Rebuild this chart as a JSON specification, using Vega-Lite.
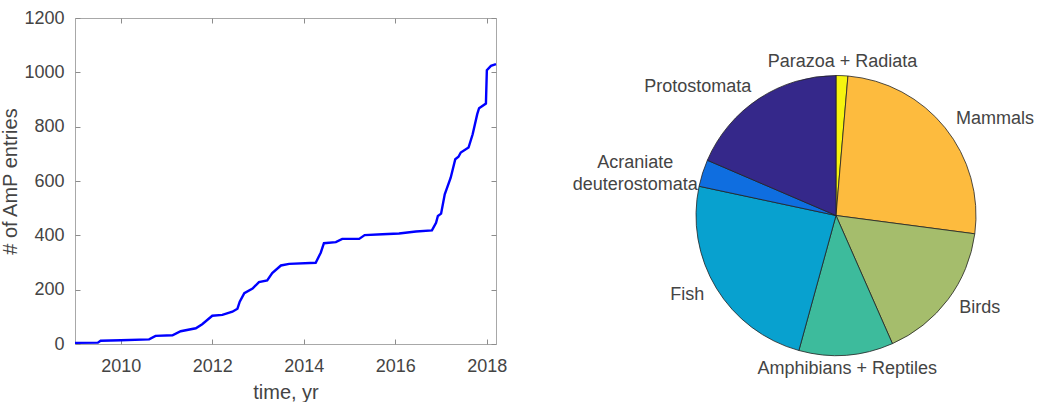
{
  "$schema": "https://vega.github.io/schema/vega-lite/v6.json",
  "padding": {"left": 0, "top": 8, "right": 0, "bottom": 0},
  "bounds": "flush",
  "spacing": 140,
  "config": {
    "font": "Liberation Sans",
    "axis": {
      "grid": false,
      "domain": false,
      "tickColor": "#8c8c8c",
      "tickWidth": 1,
      "tickSize": -5,
      "labelFont": "Liberation Sans",
      "labelFontSize": 18,
      "labelColor": "#444444",
      "titleFont": "Liberation Sans",
      "titleFontSize": 20,
      "titleFontWeight": "normal",
      "titleColor": "#444444"
    }
  },
  "datasets": {
    "entries": [
      {"year": 2009.0, "entries": 4},
      {"year": 2009.5, "entries": 5},
      {"year": 2009.56, "entries": 12},
      {"year": 2010.0, "entries": 14},
      {"year": 2010.62, "entries": 17},
      {"year": 2010.76, "entries": 30},
      {"year": 2011.13, "entries": 32},
      {"year": 2011.31, "entries": 47},
      {"year": 2011.64, "entries": 58},
      {"year": 2011.78, "entries": 73},
      {"year": 2012.0, "entries": 104},
      {"year": 2012.22, "entries": 107},
      {"year": 2012.44, "entries": 119},
      {"year": 2012.55, "entries": 130},
      {"year": 2012.6, "entries": 156},
      {"year": 2012.7, "entries": 187},
      {"year": 2012.88, "entries": 204},
      {"year": 2013.02, "entries": 228},
      {"year": 2013.2, "entries": 234},
      {"year": 2013.31, "entries": 261},
      {"year": 2013.5, "entries": 289},
      {"year": 2013.68, "entries": 295},
      {"year": 2014.26, "entries": 299},
      {"year": 2014.37, "entries": 336},
      {"year": 2014.44, "entries": 371},
      {"year": 2014.7, "entries": 375},
      {"year": 2014.84, "entries": 387},
      {"year": 2015.21, "entries": 387},
      {"year": 2015.33, "entries": 401},
      {"year": 2015.72, "entries": 404},
      {"year": 2016.08, "entries": 407},
      {"year": 2016.45, "entries": 414},
      {"year": 2016.8, "entries": 418},
      {"year": 2016.89, "entries": 446},
      {"year": 2016.93, "entries": 471},
      {"year": 2017.0, "entries": 480},
      {"year": 2017.08, "entries": 551},
      {"year": 2017.21, "entries": 612},
      {"year": 2017.31, "entries": 680},
      {"year": 2017.38, "entries": 689},
      {"year": 2017.43, "entries": 705},
      {"year": 2017.6, "entries": 723},
      {"year": 2017.69, "entries": 772},
      {"year": 2017.79, "entries": 846},
      {"year": 2017.83, "entries": 868},
      {"year": 2017.98, "entries": 885},
      {"year": 2018.0, "entries": 1008},
      {"year": 2018.09, "entries": 1024},
      {"year": 2018.2, "entries": 1030}
    ],
    "taxa": [
      {"group": "Parazoa + Radiata", "count": 14, "rank": 1},
      {"group": "Mammals", "count": 265, "rank": 2},
      {"group": "Birds", "count": 168, "rank": 3},
      {"group": "Amphibians + Reptiles", "count": 112, "rank": 4},
      {"group": "Fish", "count": 248, "rank": 5},
      {"group": "Acraniate\ndeuterostomata", "count": 32, "rank": 6},
      {"group": "Protostomata", "count": 191, "rank": 7}
    ]
  },
  "hconcat": [
    {
      "width": 421,
      "height": 326,
      "view": {"stroke": "#a8a8a8", "strokeWidth": 1},
      "data": {"name": "entries"},
      "layer": [
        {
          "mark": {"type": "line", "color": "#0000ff", "strokeWidth": 2.4},
          "encoding": {
            "x": {
              "field": "year", "type": "quantitative",
              "scale": {"domain": [2009, 2018.2], "nice": false, "zero": false},
              "axis": {"orient": "bottom", "values": [2010, 2012, 2014, 2016, 2018], "format": "d",
                       "labelPadding": 18, "title": "time, yr", "titlePadding": 7}
            },
            "y": {
              "field": "entries", "type": "quantitative",
              "scale": {"domain": [0, 1200], "nice": false},
              "axis": {"orient": "left", "values": [0, 200, 400, 600, 800, 1000, 1200], "format": "d",
                       "labelPadding": 16, "title": "# of AmP entries", "titlePadding": 3}
            }
          }
        },
        {
          "mark": {"type": "line", "opacity": 0},
          "encoding": {
            "x": {
              "field": "year", "type": "quantitative",
              "axis": {"orient": "top", "values": [2010, 2012, 2014, 2016, 2018], "labels": false, "title": null}
            },
            "y": {
              "field": "entries", "type": "quantitative",
              "axis": {"orient": "right", "values": [0, 200, 400, 600, 800, 1000, 1200], "labels": false, "title": null}
            }
          }
        }
      ],
      "resolve": {"axis": {"x": "independent", "y": "independent"}}
    },
    {
      "width": 400,
      "height": 395,
      "view": {"stroke": null},
      "data": {"name": "taxa"},
      "encoding": {
        "theta": {"field": "count", "type": "quantitative", "stack": true},
        "order": {"field": "rank", "type": "quantitative"}
      },
      "layer": [
        {
          "mark": {"type": "arc", "outerRadius": 140, "stroke": "#222222", "strokeWidth": 0.8},
          "encoding": {
            "color": {
              "field": "group", "type": "nominal", "legend": null,
              "scale": {
                "domain": ["Parazoa + Radiata", "Mammals", "Birds", "Amphibians + Reptiles", "Fish", "Acraniate\ndeuterostomata", "Protostomata"],
                "range": ["#f6f40f", "#fdbb3e", "#a5bd6c", "#3dbb9c", "#08a1cf", "#0f6ee0", "#35288a"]
              }
            }
          }
        },
        {
          "mark": {"type": "text", "radius": 154, "align": "left", "baseline": "middle", "fontSize": 18, "color": "#444444"},
          "encoding": {
            "text": {"condition": {"test": "datum.group === 'Mammals' || datum.group === 'Birds'", "field": "group"}, "value": ""}
          }
        },
        {
          "mark": {"type": "text", "radius": 154, "align": "right", "baseline": "middle", "fontSize": 18, "color": "#444444"},
          "encoding": {
            "text": {"condition": {"test": "datum.group === 'Fish' || datum.group === 'Protostomata'", "field": "group"}, "value": ""}
          }
        },
        {
          "mark": {"type": "text", "radius": 154, "align": "center", "baseline": "middle", "fontSize": 18, "color": "#444444"},
          "encoding": {
            "text": {"condition": {"test": "datum.group === 'Parazoa + Radiata' || datum.group === 'Amphibians + Reptiles'", "field": "group"}, "value": ""}
          }
        },
        {
          "mark": {"type": "text", "radius": 154, "align": "center", "baseline": "middle", "fontSize": 18, "color": "#444444",
                   "lineBreak": "\n", "lineHeight": 22, "dx": -54, "dy": -6},
          "encoding": {
            "text": {"condition": {"test": "indexof(datum.group, 'Acraniate') === 0", "field": "group"}, "value": ""}
          }
        }
      ]
    }
  ]
}
